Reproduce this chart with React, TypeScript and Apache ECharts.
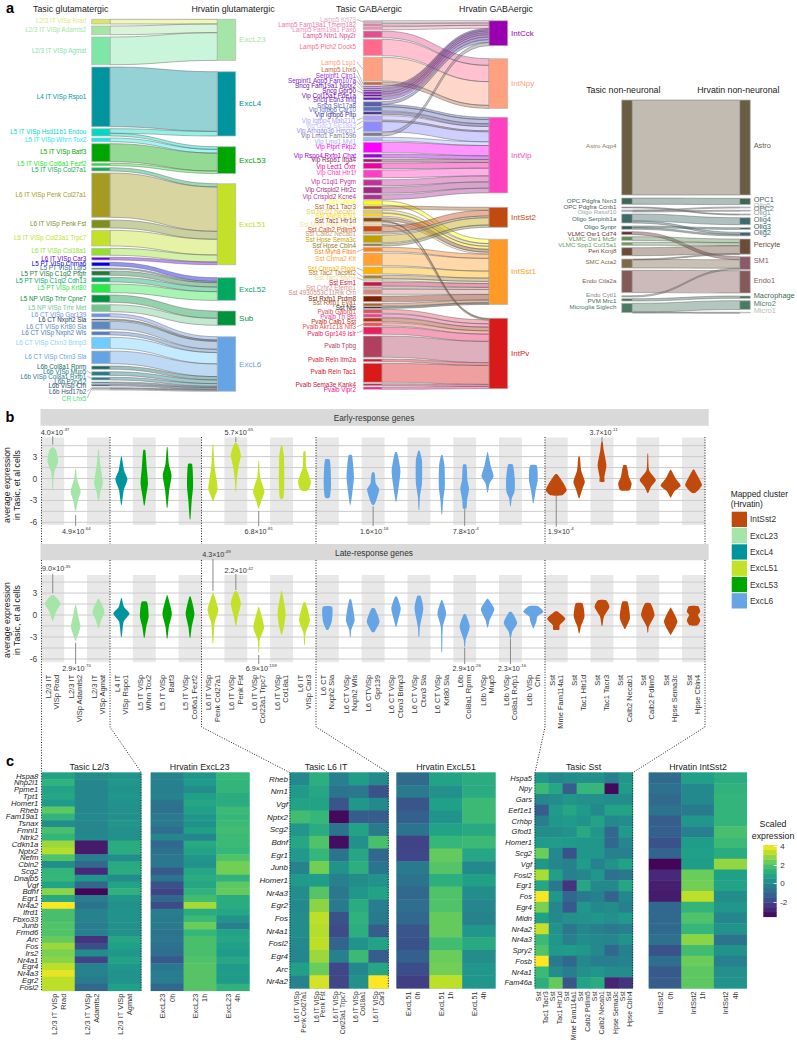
import React, { useEffect, useRef } from "react";
import * as echarts from "echarts";

const FONT = "Liberation Sans";

/* ---------- panel a data ---------- */
const gluLeftNames = ["L2/3 IT VISp Rrad","L2/3 IT VISp Adamts2","L2/3 IT VISp Agmat","L4 IT VISp Rspo1","L5 IT VISp Hsd11b1 Endou","L5 IT VISp Whrn Tox2","L5 IT VISp Batf3","L5 IT VISp Col6a1 Fezf2","L5 IT VISp Col27a1","L6 IT VISp Penk Col27a1","L6 IT VISp Penk Fst","L6 IT VISp Col23a1 Trpc7","L6 IT VISp Col18a1","L6 IT VISp Car3","L5 PT VISp Chrna6","L5 PT VISp Lgr5","L5 PT VISp C1ql2 Ptgfr","L5 PT VISp C1ql2 Cdh13","L5 PT VISp Krt80","L5 NP VISp Trhr Cpne7","L5 NP VISp Trhr Met","L6 CT VISp Gpr139","L6 CT Nxph2 Sla","L6 CT VISp Krt80 Sla","L6 CT VISp Nxph2 Wls","L6 CT VISp Ctxn3 Brinp3","L6 CT VISp Ctxn3 Sla","L6b Col8a1 Rprm","L6b VISp Mup5","L6b VISp Col8a1 Rxfp1","L6b P2ry12","L6b VISp Crh","L6b Hsd17b2","CR Lhx5"];
const gluRightNames = ["ExcL23","ExcL4","ExcL53","ExcL51","ExcL52","Sub","ExcL6"];
const gluValues = [4.7,8.7,27.7,59.7,4.6,3.7,18,2.4,3.3,44.3,8,15.7,7,2.7,3.7,1.3,4.3,4.7,8.7,7.3,7,3.3,1.3,8,3.3,11.3,12.7,3.3,3.7,2.7,1.3,1.7,1,1];
const gluTargets = [0,0,0,1,1,2,2,2,3,3,3,3,3,3,4,4,4,4,4,5,5,6,6,6,6,6,6,6,6,6,6,6,6,6];
const gluExtra = [["L5 IT VISp Hsd11b1 Endou","ExcL53",2.7]];
const gluColors = ["#d6e95f","#a5e5a5","#7ee6a6","#00949e","#00d9c0","#1de8e8","#00a600","#1ee61e","#15a858","#a49b20","#7d8f1e","#c4e028","#93e02a","#6a00e0","#0000e8","#3a6a8a","#1f7a3a","#00a860","#2ae84a","#00923c","#70c890","#6a90e8","#1a3a4a","#5a8ac0","#4a7ac0","#70ccff","#64a4e4","#186a60","#207a8a","#287c90","#2a6a80","#284a70","#3a5a7a","#dddddd"];
const gluRightColors = ["#a6e5a8","#00949e","#00a600","#c4e028","#00a860","#00923c","#66a5e5"];

const gabaLeftNames = ["Lamp5 Krt73","Lamp5 Fam19a1 Tmem182","Lamp5 Fam19a1 Pax6","Lamp5 Ntn1 Npy2r","Lamp5 Plch2 Dock5","Lamp5 Lsp1","Lamp5 Lhx6","Serpinf1 Clrn1","Serpinf1 Aqp5 Fam107a","Sncg Fam19a1 Nptx2","Sncg Gpr50","Vip Col15a1 Pde1a","Sncg Edn3 Ifng","Sncg Slc17a8","Vip Igfbp6 Car10","Vip Igfbp6 Pltp","Vip Igfbp4 Mab21l1","Vip Gpc3 Slc18a3","Vip Arhgap36 Hmcn1","Vip Lmo1 Fam159b","Vip Lmo1 Myl1","Vip Ptprt Pkp2","Vip Rspo4 Rxfp1 Chat","Vip Rspo1 Itga4","Vip Lect1 Oxtr","Vip Chat Htr1f","Vip C1ql1 Pygm","Vip Crispld2 Htr2c","Vip Crispld2 Kcne4","Sst Chodl","Sst Tac1 Tacr3","Sst Nr2f2 Necab1","Sst Myh8 Etv1","Sst Tac1 Htr1d","Sst Mme Fam114a1","Sst Calb2 Pdlim5","Sst Calb2 Necab1","Sst Hpse Sema3c","Sst Hpse Cbln4","Sst Myh8 Fibin","Sst Chrna2 Kit","Sst Chrna2 Ptgdr","Sst Tac2 Tacstd2","Sst Tac2 Myh4","Sst Esm1","Sst Crhr2 Efemp1","Sst 4930553C11Rik Crh","Sst Rxfp1 Prdm8","Sst Rxfp1 Eya1","Sst Nts","Pvalb Gabrg1","Pvalb Th Sst","Pvalb Calb1 Sst","Pvalb Akr1c18 Ntf3","Pvalb Gpr149 Islr","Pvalb Tpbg","Pvalb Reln Itm2a","Pvalb Reln Tac1","Pvalb Sema3e Kank4","Pvalb Vipr2"];
const gabaRightNames = ["IntCck","IntNpy","IntVip","IntSst2","IntSst1","IntPv"];
const gabaValues = [2.3,2.3,3,6.7,16.3,23.7,3,1.3,1.3,1.7,2,2.3,2.7,2.2,4.3,2.7,4.3,1,10,3.3,3.7,10.3,3.7,3,5.7,7.7,6,6.3,4.7,4.3,3,2.7,3,3,1.8,5.7,1.7,7.3,2.3,4.3,12.7,7,3.3,2,4,2,5,5.7,2.7,1.7,4,3.3,3.7,3.3,7.3,21.3,2.7,19,2,2.3];
const gabaTargets = [0,0,0,1,1,1,1,0,0,0,0,0,0,2,2,2,2,2,2,0,2,2,2,2,2,2,2,2,2,4,3,4,4,4,4,3,3,3,3,4,4,4,4,4,4,4,4,4,4,4,5,5,5,5,5,5,5,5,5,5];
const gabaExtra = [["Sncg Slc17a8","IntCck",2.8],["Sst Tac1 Htr1d","IntPv",1],["Sst Mme Fam114a1","IntPv",0.5]];
const gabaColors = ["#d8b0c4","#e87aa0","#f090b0","#e0508c","#ff6a8c","#ffa080","#c06a40","#9a30e0","#8020e0","#7010a0","#6a00a0","#7010b0","#6a1ac0","#5a60a8","#6070c0","#40308a","#b0a0ff","#c0c0f0","#8c8cff","#7a7a90","#a0b4ff","#ff00ff","#a000e0","#902060","#f000a0","#ff40c0","#c03098","#a02880","#b03098","#ffff00","#b06018","#e0d060","#ffd800","#8a4a10","#ffe0a0","#c84a10","#c8a070","#c0a000","#8a8030","#ff8010","#ffa030","#ffb000","#b08030","#e8d890","#c01848","#d89090","#d08a80","#802000","#b06030","#302010","#e05060","#f04090","#b03010","#f05050","#e82060","#b04060","#d81a30","#d81a1a","#c02040","#ff1090"];
const gabaRightColors = ["#9a00b0","#ffa080","#ff40c0","#c04a10","#ff9a28","#d81a1a"];

const nnLeftNames = ["Astro Aqp4","OPC Pdgfra Nxn3","OPC Pdgfra Ccnb1","Oligo Rassf10","Oligo Serpinb1a","Oligo Synpr","VLMC Osr1 Cd74","VLMC Osr1 Mc5r","VLMC Spp1 Col15a1","Peri Kcnj8","SMC Acta2","Endo Ctla2a","Endo Cytl1","PVM Mrc1","Microglia Siglech"];
const nnRightNames = ["Astro","OPC1","Olig5","OPC2","Olig1","Olig4","Olig3","Olig2","Pericyte","SM1","Endo1","Macrophage","Micro2","Micro1"];
const nnLinks = [["Astro Aqp4","Astro",95],["OPC Pdgfra Nxn3","OPC1",6.3],["OPC Pdgfra Ccnb1","Olig1",1],["Oligo Rassf10","Olig5",0.9],["Oligo Rassf10","OPC2",0.8],["Oligo Serpinb1a","Olig4",7],["Oligo Serpinb1a","Olig2",2],["Oligo Synpr","Olig3",1.7],["Oligo Synpr","Olig2",1.6],["VLMC Osr1 Cd74","SM1",3],["VLMC Osr1 Mc5r","Pericyte",3.7],["VLMC Spp1 Col15a1","Pericyte",3],["Peri Kcnj8","Pericyte",8],["SMC Acta2","SM1",8.5],["SMC Acta2","Pericyte",0.5],["Endo Ctla2a","Endo1",22.3],["Endo Cytl1","SM1",1.3],["PVM Mrc1","Macrophage",2.3],["Microglia Siglech","Micro2",8.8],["Microglia Siglech","Micro1",0.5]];
const nnColors = ["#6b5c44","#3f6558","#555555","#9aaaaa","#3e6a68","#2e5a58","#6a2a30","#5e8a50","#6a9a58","#6b4c38","#7c6a48","#845a58","#888888","#3e6a50","#4a7a64"];
const nnRightColors = ["#6b5c44","#3f6558","#a8bcc0","#667777","#8a9a9a","#3e6a68","#2e5a58","#3e6478","#6b4c38","#8a5a6a","#845a58","#3e6a50","#4a7a64","#bbbbbb"];

/* layout of panel a (pixel positions of node tops and label rows) */
const gluLeftTops = [19.3,26,37,67,128.7,138,143.7,163.3,167.7,173,220,230.3,248.3,257.3,262.3,268,271,277.3,284,295,304.7,313.7,319,321.3,331.7,337.3,351,366,371.7,377.3,382,384.3,387.7,389];
const gluLabelY = [20.7,29.3,50,96,131.7,139,151.7,163.7,169.7,194.3,223,237.3,250.7,258.3,263.7,267.3,273.3,280,287.3,298,307.3,314.3,319.7,326,332.3,342,356.7,366,371,376,381,385.7,391.3,398];
const gluRightTops = [19.3,71.7,146.7,183.7,277.7,311,336.7];
const gabaLeftTops = [20.7,23.7,26.7,31,39.3,57.3,82,86,88,90,92,94.3,97.3,101.7,106.7,111.7,115.7,120.5,121.7,132.7,137.3,142.3,154,159,163,170,179.7,187,194.7,200.7,206,210,213.3,217.7,222.7,226,232.3,235.3,243.7,247.3,253,267,275.3,279,282,286.7,289.3,296,303.3,306.7,309.3,314,318,322.7,327,336,359,363.3,383.7,387];
const gabaLabelY = [19.3,24,29,35.3,46.3,62,69.7,75.7,80.7,85.7,90.7,95,99.7,105,109.7,114,120.3,125,130,135.3,141,146.3,155,159.7,166.3,172.7,181.7,189,196,201.7,206.7,211.7,215.3,220,224,229,233.7,239.7,245.3,251.7,258.3,268,272.7,277.7,282.7,287,292,298,302.7,307,311,316,321,326.7,333,345.7,359.7,371.7,384,389];
const gabaRightTops = [20.7,58.7,117.3,207.3,239.3,318.3];
const nnLeftTops = [100,198,207,210,214,226,231.7,236.7,242.3,247.7,259,270.3,295.7,298.7,303.3];
const nnLabelY = [145.7,200,206.3,211.3,218.7,226.7,233,238.7,244,250.3,261.7,280.7,294.7,300,306.7];
const nnRightTops = [100,198.3,207,210.3,214,217.7,227.7,232.3,239,256.7,270.7,296,300.7,312.3];
const nnRightLabelY = [145.7,199.3,205,208.3,212.7,219,226.7,232.3,244.3,260,280,295,303.3,310.7];
const labelColorOverrides: any = { "CR Lhx5": "#40e070", "L2/3 IT VISp Rrad": "#e0e880", "Astro Aqp4": "#8a7c64", "L6 CT VISp Ctxn3 Brinp3": "#90d0ff" };

/* ---------- panel b data ---------- */
const violinColumns = ["L2/3 IT\nVISp Rrad","L2/3 IT\nVISp Adamts2","L2/3 IT\nVISp Agmat","L4 IT\nVISp Rspo1","L5 IT VISp\nWhrn Tox2","L5 IT VISp\nBatf3","L5 IT VISp\nCol6a1 Fezf2","L6 IT VISp\nPenk Col27a1","L6 IT VISp\nPenk Fst","L6 IT VISp\nCol23a1 Trpc7","L6 IT VISp\nCol18a1","L6 IT\nVISp Car3","L6 CT\nNxph2 Sla","L6 CT VISp\nNxph2 Wls","L6 CTVISp\nGpr139","L6 CT VISp\nCtxn3 Brinp3","L6 CT VISp\nCtxn3 Sla","L6 CT VISp\nKrt80 Sla","L6b\nCol8a1 Rprm","L6b VISp\nMup5","L6b VISp\nCol8a1 Rxfp1","L6b VISp\nCrh","Sst\nMme Fam114a1","Sst\nTac1 Htr1d","Sst\nTac1 Tacr3","Sst\nCalb2 Necab1","Sst\nCalb2 Pdlim5","Sst\nHpse Sema3c","Sst\nHpse Cbln4"];
const clusterNames = ["IntSst2","ExcL23","ExcL4","ExcL51","ExcL53","ExcL6"];
const clusterColors = ["#bf4a0c","#a6e5a8","#00959e","#c4e028","#00a600","#66a5e5"];
const columnClusters = [1,1,1,2,4,4,4,3,3,3,3,3,5,5,5,5,5,5,5,5,5,5,0,0,0,0,0,0,0];
const axisLevels = [-6,-4.5,-3,-1.5,0,1.5,3,4.5];
const earlyViolins = [
[[4.3,2],[3.9,10],[2.3,16],[1.1,6],[-0.2,2],[-1.6,1]],
[[1.3,1],[0,4],[-1.8,15],[-3,7],[-4.45,1]],
[[4,1],[2,5],[-0.7,13],[-1.8,6],[-3.1,1]],
[[3,1],[1.1,8],[-0.1,18],[-1.6,7],[-3.6,1]],
[[3.9,3],[1.6,7],[-0.7,11],[-2.5,5],[-3.7,1]],
[[4.3,1],[2,5],[0.45,13],[-1.6,6],[-4,1]],
[[2,6],[-1.1,9],[-3,5],[-5.6,1]],
[[4.7,1],[1.6,5],[-1.4,14],[-2.3,7],[-3.1,1]],
[[4.9,2],[4.3,9],[3.2,15],[1.6,8],[-0.2,3],[-1.8,1]],
[[2.4,1],[0.2,4],[-1.8,17],[-3,8],[-4.1,1]],
[[4.5,2],[3,7],[-0.7,8],[-2.5,6],[-2.8,3]],
[[3.7,3],[1.6,5],[-0.45,19],[-1.4,14],[-1.7,6]],
[[2.6,7],[-0.7,11],[-2.5,8],[-2.7,3]],
[[3.2,5],[0.2,11],[-2,6],[-3.6,1]],
[[0.8,4],[-0.7,8],[-1.5,18],[-3,9],[-3.6,3]],
[[3.6,3],[1.1,13],[-1.1,8],[-3.2,1]],
[[3.8,2],[2.5,9],[-0.7,9],[-2.5,3],[-4.3,1]],
[[3.2,2],[1.8,8],[-1.1,9],[-3,4],[-4.9,1]],
[[1.9,5],[-0.2,8],[-1.4,13],[-3,7],[-4.1,5]],
[[3.6,1],[1.8,9],[0.3,18],[-0.7,6],[-1.9,1]],
[[1.9,7],[-0.2,13],[-1.8,12],[-2.7,4],[-3.8,1]],
[[1.8,10],[-0.2,13],[-1.6,7],[-3.4,1]],
[[0.6,3],[-0.45,19],[-1.6,31],[-2.3,17]],
[[3,2],[1.1,6],[-0.45,17],[-1.4,10],[-2.7,1]],
[[5,2],[3.9,5],[1.8,13],[0.2,7],[-0.45,7]],
[[1.8,5],[0.2,12],[-0.7,20],[-1.6,14]],
[[3.4,1],[1.1,4],[-0.2,24],[-1.1,10],[-2,1]],
[[1.2,1],[0,15],[-1,30],[-1.8,10],[-2.6,1]],
[[1.2,2],[0.2,14],[-0.9,25],[-1.6,14],[-2,3]],
];
const lateViolins = [
[[2.7,4],[1.6,23],[0.45,10],[-0.8,1]],
[[1.4,1],[-0.2,8],[-1.6,14],[-3.5,1]],
[[2.2,2],[0.45,18],[-0.7,8],[-1.8,1]],
[[2.3,1],[1.1,8],[0.2,24],[-0.9,7],[-3,1]],
[[1.8,8],[-0.2,13],[-1.6,6],[-3.1,1]],
[[2.7,1],[0.2,14],[-1.6,5],[-3.2,1]],
[[2.5,2],[0.2,13],[-1.6,5],[-3.1,1]],
[[3,1],[0.7,16],[-1.1,5],[-3.9,1]],
[[3.2,4],[1.6,15],[-0.2,6],[-1.5,1]],
[[1.1,1],[-1.7,16],[-3.4,3],[-5.1,1]],
[[3.3,1],[0.2,12],[-1.6,7],[-2.7,1]],
[[1.7,3],[-0.7,16],[-2.5,3],[-4.1,1]],
[[1.1,14],[-0.9,13],[-2,3]],
[[2.1,3],[-0.7,13],[-2,3],[-3,1]],
[[0.9,5],[-0.9,19],[-2.3,4]],
[[2.5,3],[0.9,14],[-0.7,6],[-1.6,1]],
[[2.6,5],[0.9,13],[-1.6,3],[-3,1]],
[[2,2],[0.2,13],[-1.6,3],[-5.1,1]],
[[0.1,3],[-1.6,15],[-3.4,3],[-4.4,1]],
[[2.2,2],[0.8,20],[-0.7,6],[-1.7,1]],
[[0.4,4],[-1.1,20],[-2.3,5],[-3.2,1]],
[[1.2,14],[0.45,30],[-0.2,12],[-0.9,9],[-1.8,1]],
[[0.5,3],[-0.5,27],[-1.4,10],[-2,9]],
[[1.6,10],[-0.2,16],[-1.6,5],[-2.5,1]],
[[2,12],[1.1,22],[-0.2,6],[-1.5,1]],
[[1.8,8],[-0.45,15],[-1.9,1]],
[[1.6,8],[0,20],[-1.6,3],[-2.4,1]],
[[1,1],[-0.9,20],[-2.7,1]],
[[1.2,14],[0.45,20],[0,13],[-0.7,20],[-1.4,12]],
];
// column, line start, line end, text level, text shift, mantissa, exponent
const earlyNotes: any[] = [[0,5.77,4.64,6.36,2.3,"4.0×10","-37"],[1,-5,-6.5,-7.2,0.7,"4.9×10","-64"],[8,5.67,5,6.36,3,"5.7×10","-65"],[9,-4.46,-6.5,-7.2,0,"6.8×10","-81"],[14,-3.8,-6.5,-7.2,1,"1.6×10","-16"],[18,-4.2,-6.5,-7.2,1,"7.8×10","-4"],[22,-2.4,-6.6,-7.2,4.5,"1.9×10","-4"],[24,5.67,4.9,6.36,1.5,"3.7×10","-11"]];
const lateNotes: any[] = [[0,5.6,3,6.28,3.5,"9.0×10","-35"],[1,-3.78,-6.68,-7.23,1,"2.9×10","-70"],[7,7.64,3.3,8.28,3.5,"4.3×10","-49"],[8,5.6,3.4,6.04,3,"2.2×10","-42"],[9,-5.46,-6.68,-7.23,2.5,"6.9×10","-159"],[18,-4.5,-6.68,-7.23,2,"2.9×10","-26"],[20,-3.27,-6.68,-7.23,1.5,"2.3×10","-16"]];

/* ---------- panel c data ---------- */
const genesL23 = ["Hspa8","Nhp2l1","Ppme1","Tpt1","Homer1","Rheb","Fam19a1","Tsnax","Fmnl1","Ntrk2","Cdkn1a","Nptx2","Nefm","Cbln2","Scg2","Dnajb5","Vgf","Bdnf","Egr1","Nr4a2","Ifrd1","Fbxo33","Junb","Frmd6","Arc","Fos","Irs2","Nr4a1","Egr4","Nr4a3","Egr2","Fosl2"];
const tasicL23Cols = ["L2/3 IT VISp\nRrad","L2/3 IT VISp\nAdamts2","L2/3 IT VISp\nAgmat"];
const tasicL23Values = [[0.9,0.2,0.4],[1.4,0,0.5],[0.9,0,0.4],[1,0,0.5],[0.6,0,0.4],[2.2,0,0.3],[1.5,0.1,0.3],[0.2,0,0.5],[1.9,0,0.3],[1.5,0.1,0.3],[3,-3,1.2],[3.3,-3,1.2],[2,-0.2,0.2],[0.2,-0.9,1.1],[1.5,-2.7,1.2],[1.6,0.5,0.2],[0.9,-1,0.9],[2.8,-3.5,1.4],[1.1,-0.3,0.5],[4.2,-0.6,0.3],[1.9,-0.1,0.4],[1.9,-0.1,0.4],[2,-0.3,0.3],[2,-0.2,0.3],[2.3,-2.4,1],[3,-1.7,0.8],[2.6,0.2,0.5],[2.8,-2,0.9],[3.4,-0.1,0.5],[3.9,-0.1,0.4],[3.4,-0.4,0.4],[3.4,-1,0.8]];
const excL23Cols = ["ExcL23\n0h","ExcL23\n1h","ExcL23\n4h"];
const excL23Values = [[-0.1,0.5,1.6],[-0.2,0.6,1.5],[-0.2,0.2,1.5],[-0.1,0.8,1.2],[-0.6,1,1.2],[-0.7,0.8,1.7],[-0.4,0.5,1.6],[-0.4,0.4,1.7],[-0.8,0.8,1.8],[0,0,1.7],[-1,1.1,1.7],[-0.7,0.9,1.6],[-0.5,0.5,2],[-0.5,0.4,2.5],[-1.4,1,2.5],[-0.6,1.2,1.4],[-1.6,1,2.2],[-2,1.4,2.3],[-1,1.8,1.2],[-1.8,3.1,1.2],[-0.3,1.2,1],[-0.4,1.7,0.4],[-0.4,2.4,-0.2],[-0.6,1.6,0.9],[-0.5,1.9,1],[-0.7,1.9,0.8],[-0.8,1.9,0.6],[-1.4,2,1],[-0.5,2.1,0.6],[-0.3,2.1,0.7],[-0.3,2.1,0.6],[-1,2.1,1.4]];
const genesL6 = ["Rheb","Nrn1","Vgf","Nptx2","Scg2","Bdnf","Egr1","Junb","Homer1","Nr4a3","Egr2","Fos","Nr4a1","Fosl2","Egr4","Arc","Nr4a2"];
const tasicL6Cols = ["L6 IT VISp\nPenk Col27a1","L6 IT VISp\nPenk Fst","L6 IT VISp\nCol23a1 Trpc7","L6 IT VISp\nCol18a1","L6 IT VISp\nCar3"];
const tasicL6Values = [[0.1,1.3,-0.2,0.7,0.1],[0.6,1,-0.6,-0.5,-1.6],[0.9,0.9,-1.5,0.5,0.1],[1.8,1.6,-3.4,-1.3,-1.3],[0.5,1.2,-0.6,0.9,-0.4],[1,2,-3.3,0.3,1.9],[0.6,1.6,-0.6,1,-1],[-0.1,2.5,0.4,1.3,-0.6],[0.6,0.7,-0.2,0.2,0.4],[0.2,2.1,-0.5,0.5,0.9],[0.1,2.8,-0.4,1.2,-0.3],[0.2,3.4,-1.6,1.4,-0.4],[0.2,3.3,-1.8,1.3,-1.3],[0.1,3.4,-1.1,0.4,0.9],[0,3,-0.2,1.7,-1.3],[0.8,2.4,-1.9,0,1],[-0.1,3.7,-1.9,0.3,4.2]];
const excL51Cols = ["ExcL51\n0h","ExcL51\n1h","ExcL51\n4h"];
const excL51Values = [[-0.9,0.9,1.2],[-0.4,0.3,1.2],[-1.5,0.8,1.7],[-1.2,0.4,1.7],[-0.6,0.9,1.1],[-2,1.6,1.7],[-1.9,2.3,1],[-0.4,2.1,0.1],[-0.6,1.3,0.8],[-1,2,0.2],[-0.8,2,0],[-1,2.3,-0.1],[-1.5,2.3,0.5],[-1.6,1.8,1.1],[-1.2,2.4,0.2],[-1.7,2.5,0.5],[-2.1,3.4,0.5]];
const genesSst = ["Hspa5","Npy","Gars","Eef1e1","Crhbp","Gfod1","Homer1","Scg2","Vgf","Fosl2","Egr1","Fos","Egr4","Midn","Nr4a2","Nr4a3","Spry2","Fosb","Nr4a1","Fam46a"];
const tasicSstCols = ["Sst\nTac1 Tacr3","Sst\nTac1 Htr1d","Sst\nMme Fam114a1","Sst\nCalb2 Pdlim5","Sst\nCalb2 Necab1","Sst\nHpse Sema3c","Sst\nHpse Cbln4"];
const tasicSstValues = [[0.5,0,0.2,0.3,0.3,-0.2,0.5],[1.7,1,-1.3,1.6,1.6,-3.4,0.7],[0,0.2,0.5,0.3,0.3,0.2,0.2],[-1.3,0.6,1,0.6,0.1,0.9,0.9],[-0.3,0.5,0.6,0.4,0.9,0.1,0.2],[0.2,0.2,0.4,1.1,0.5,-1,0.6],[0.6,0.7,0.6,0.5,0.5,-1,0],[2.4,0.1,-1.6,0.5,0.5,-0.2,-0.2],[0.5,0,-0.2,0.7,-0.1,0.4,0.9],[3.2,0.8,-0.2,0,0.5,-0.7,-0.5],[1,-0.5,-2.4,1,0.1,0.1,1],[4.1,0.5,-1,-0.4,-0.2,-1.1,0],[2.6,0,-1.4,0.5,0.1,0.2,-0.2],[0.8,0.1,0.3,0.4,0.5,0.3,0.6],[3.5,0.4,-0.5,0,-0.2,-0.4,-0.2],[1.7,0.5,-0.2,0.2,0.1,0,0.4],[2,0.6,0.7,0.5,0.1,-1,-0.2],[4.2,-0.4,-1,0.1,-0.3,-0.3,-0.1],[1.7,0.2,-0.3,0.3,0.5,0.2,0.2],[1.3,2.3,-1.5,0.9,1.2,-2.8,-2.4]];
const intSst2Cols = ["IntSst2\n0h","IntSst2\n1h","IntSst2\n4h"];
const intSst2Values = [[-0.9,0.8,1.2],[-0.7,0.1,1.4],[-0.9,0.1,1.5],[-0.6,-0.4,1.5],[-1.3,0.5,1.5],[-1.2,-0.2,1.9],[-1.6,0.7,1.7],[-1.1,0.8,1.2],[-3.5,0.7,2.9],[-2.7,2.4,0.8],[-2.9,2.5,0.9],[-3,3.4,0.2],[-1,1.5,0.5],[-1,2,0],[-1,1.6,0.4],[-0.7,2.8,-0.6],[-1.6,1.8,0.4],[-0.8,2.4,-0.2],[-1.4,2.2,0.3],[-1.3,2.2,0.4]];
const colorbarSteps = [-3.57,-3.05,-2.53,-2.02,-1.5,-0.98,-0.47,0.05,0.57,1.08,1.6,2.12,2.63,3.15,3.67,4.18];
const viridis = ["#440154","#482878","#3e4989","#31688e","#26828e","#1f9e89","#35b779","#6ece58","#b5de2b","#fde725"];
const colorMin = -3.57, colorMax = 4.18;

/* ---------- builders ---------- */
function buildSankey(cfg: any) {
  const links = cfg.links.map((l: any) => ({ source: l[0], target: l[1], value: l[2] }));
  const out = (n: string) => links.filter((l: any) => l.source === n).reduce((s: number, l: any) => s + l.value, 0);
  const inn = (n: string) => links.filter((l: any) => l.target === n).reduce((s: number, l: any) => s + l.value, 0);
  const sumL = cfg.leftNames.reduce((s: number, n: string) => s + out(n), 0);
  const sumR = cfg.rightNames.reduce((s: number, n: string) => s + inn(n), 0);
  const H = Math.max(sumL, sumR);
  const leaders: any[] = [];
  const left = cfg.leftNames.map((n: string, i: number) => {
    const centre = cfg.leftTops[i] + out(n) / 2;
    const dy = cfg.labelY[i] - centre;
    if (Math.abs(dy) > 2.2) {
      leaders.push({ type: "line", z: 50, silent: true, shape: { x1: cfg.x - cfg.labelGap + 0.5, y1: cfg.labelY[i], x2: cfg.x - 0.5, y2: centre }, style: { stroke: "#777", lineWidth: 0.5 } });
    }
    return {
      name: n, localY: cfg.leftTops[i] / H,
      itemStyle: { color: cfg.leftColors[i], borderColor: "#b5b5b5", borderWidth: 0.7 },
      label: { position: "left", distance: cfg.labelGap, offset: [0, dy], color: labelColorOverrides[n] || cfg.leftColors[i], fontSize: cfg.leftFont },
    };
  });
  const right = cfg.rightNames.map((n: string, i: number) => {
    const dy = cfg.rightLabelY ? cfg.rightLabelY[i] - (cfg.rightTops[i] + inn(n) / 2) : 0;
    return {
      name: n, localY: cfg.rightTops[i] / H,
      itemStyle: { color: cfg.rightColors[i], borderColor: "#b5b5b5", borderWidth: 0.7 },
      label: { position: "right", distance: 3, offset: [0, dy], color: cfg.rightColors[i], fontSize: cfg.rightFont },
    };
  });
  return {
    leaders,
    series: {
      type: "sankey", left: cfg.x, top: 0, width: cfg.width, height: H, nodeWidth: cfg.nodeWidth, nodeGap: 0,
      layoutIterations: 0, draggable: false, silent: true, emphasis: { disabled: true },
      data: [...left, ...right], links,
      label: { show: true, fontFamily: FONT },
      lineStyle: { color: "source", opacity: 0.42, curveness: 0.5, borderColor: "#555", borderWidth: 1 },
    },
  };
}

const sharedRows = (names: string[], targets: number[], values: number[], rights: string[], extra: any[]) =>
  [...names.map((n, i) => [n, rights[targets[i]], values[i]]), ...extra];

const renderViolin = (profiles: any[]) => (params: any, api: any) => {
  const col = api.value(0);
  const k = api.size([1, 0])[0] / 68;
  const p = profiles[col];
  const l = p.map((q: number[]) => { const c = api.coord([col, q[0]]); return [c[0] - q[1] * k, c[1]]; });
  const r = p.map((q: number[]) => { const c = api.coord([col, q[0]]); return [c[0] + q[1] * k, c[1]]; }).reverse();
  return { type: "polygon", shape: { points: [...l, ...r], smooth: 0.2 }, style: { fill: api.visual("color") } };
};
const renderGridLine = (params: any, api: any) => {
  const cs = params.coordSys;
  const y = api.coord([0, api.value(1)])[1];
  return { type: "line", shape: { x1: cs.x, y1: y, x2: cs.x + cs.width, y2: y }, style: { stroke: "#cbcbcb", lineWidth: 1 } };
};
const renderNotes = (notes: any[]) => (params: any, api: any) => {
  const n = notes[params.dataIndex];
  const a = api.coord([n[0], n[1]]), b = api.coord([n[0], n[2]]), t = api.coord([n[0], n[3]]);
  return {
    type: "group",
    children: [
      { type: "line", shape: { x1: a[0], y1: a[1], x2: b[0], y2: b[1] }, style: { stroke: "#8a8a8a", lineWidth: 1 } },
      { type: "text", style: { x: t[0] + n[4], y: t[1], text: `{a|${n[5]}}{b|${n[6]}}`, align: "center", verticalAlign: "middle", rich: { a: { fontSize: 7.2, fill: "#333", fontFamily: FONT, lineHeight: 9 }, b: { fontSize: 4.4, fill: "#333", fontFamily: FONT, verticalAlign: "top" } } } },
    ],
  };
};

function App() {
  const ref = useRef<HTMLDivElement>(null);
  useEffect(() => {
    document.body.style.margin = "0";
    const chart = echarts.init(ref.current as HTMLDivElement, null, { renderer: "svg" });

    const glu = buildSankey({ x: 91.7, width: 144, nodeWidth: 18.3, labelGap: 5, leftFont: 6.3, rightFont: 8, leftNames: gluLeftNames, rightNames: gluRightNames, leftTops: gluLeftTops, rightTops: gluRightTops, labelY: gluLabelY, leftColors: gluColors, rightColors: gluRightColors, links: sharedRows(gluLeftNames, gluTargets, gluValues, gluRightNames, gluExtra) });
    const gaba = buildSankey({ x: 363.3, width: 144.4, nodeWidth: 18.7, labelGap: 7, leftFont: 6.3, rightFont: 8, leftNames: gabaLeftNames, rightNames: gabaRightNames, leftTops: gabaLeftTops, rightTops: gabaRightTops, labelY: gabaLabelY, leftColors: gabaColors, rightColors: gabaRightColors, links: sharedRows(gabaLeftNames, gabaTargets, gabaValues, gabaRightNames, gabaExtra) });
    const nn = buildSankey({ x: 621.7, width: 128.6, nodeWidth: 10.6, labelGap: 5, leftFont: 6.2, rightFont: 7.4, leftNames: nnLeftNames, rightNames: nnRightNames, leftTops: nnLeftTops, rightTops: nnRightTops, labelY: nnLabelY, rightLabelY: nnRightLabelY, leftColors: nnColors, rightColors: nnRightColors, links: nnLinks });

    const series: any[] = [glu.series, gaba.series, nn.series];
    const grids: any[] = [
      { left: 41.3, width: 663.7, top: 437.5, height: 87.5, outerBoundsMode: "none" },
      { left: 41.3, width: 663.7, top: 575, height: 87.3, outerBoundsMode: "none" },
    ];
    const bandArea = { show: true, interval: 0, areaStyle: { color: ["#e8e8e8", "rgba(255,255,255,0)"] } };
    const xAxes: any[] = [
      { gridIndex: 0, type: "category", data: violinColumns, axisLine: { show: false }, axisTick: { show: false }, axisLabel: { show: false }, splitArea: bandArea },
      { gridIndex: 1, type: "category", data: violinColumns, axisLine: { show: false }, axisTick: { show: false }, splitArea: bandArea,
        axisLabel: { interval: 0, rotate: 90, margin: 12.5, fontSize: 7.5, lineHeight: 8.4, color: "#333", fontFamily: FONT } },
    ];
    const violinY = (gi: number, min: number, max: number) => ({
      gridIndex: gi, type: "value", min, max, splitLine: { show: false }, axisLine: { show: false }, axisTick: { show: false },
      axisLabel: { customValues: [-6, -3, 0, 3], fontSize: 8.5, color: "#444", margin: 4, fontFamily: FONT },
    });
    const yAxes: any[] = [violinY(0, -6.37, 5.62), violinY(1, -6.45, 5.46)];

    [[earlyViolins, earlyNotes], [lateViolins, lateNotes]].forEach((pair: any, gi) => {
      series.push({ type: "custom", xAxisIndex: gi, yAxisIndex: gi, z: 1, silent: true, renderItem: renderGridLine, data: axisLevels.map((v) => [0, v]), encode: { x: 0, y: 1 } });
      clusterNames.forEach((name, ci) => {
        const rows = columnClusters.map((c, i) => (c === ci ? [i, pair[0][i][0][0]] : null)).filter(Boolean);
        series.push({ type: "custom", name, xAxisIndex: gi, yAxisIndex: gi, z: 3, silent: true, clip: false, itemStyle: { color: clusterColors[ci] }, renderItem: renderViolin(pair[0]), data: rows, encode: { x: 0, y: 1 } });
      });
      series.push({ type: "custom", xAxisIndex: gi, yAxisIndex: gi, z: 4, silent: true, clip: false, renderItem: renderNotes(pair[1]), data: pair[1].map((n: any) => [n[0], n[1]]), encode: { x: 0, y: 1 } });
    });

    const heatmaps = [
      { x: 42, w: 99, top: 772.7, h: 218, rows: genesL23, cols: tasicL23Cols, vals: tasicL23Values, lh: 9, fs: 7.4, gf: 7.7, m: 3.7 },
      { x: 151, w: 98.3, top: 772.7, h: 218, rows: genesL23, cols: excL23Cols, vals: excL23Values, hideY: true, lh: 9.5, fs: 7.4 },
      { x: 290, w: 98.3, top: 772.7, h: 215.6, rows: genesL6, cols: tasicL6Cols, vals: tasicL6Values, lh: 6.6, fs: 6.6, gf: 8, m: 2 },
      { x: 396.7, w: 98.6, top: 772.7, h: 215.6, rows: genesL6, cols: excL51Cols, vals: excL51Values, hideY: true, lh: 9.5, fs: 7.4 },
      { x: 535, w: 97.7, top: 772.7, h: 215.6, rows: genesSst, cols: tasicSstCols, vals: tasicSstValues, lh: 6.6, fs: 6.8, gf: 7.5, m: 3 },
      { x: 649, w: 97.7, top: 772.7, h: 215.6, rows: genesSst, cols: intSst2Cols, vals: intSst2Values, hideY: true, lh: 9.5, fs: 7.4 },
    ];
    const heatIdx: number[] = [];
    heatmaps.forEach((h: any) => {
      const gi = grids.length;
      grids.push({ left: h.x, width: h.w, top: h.top, height: h.h, show: true, backgroundColor: "transparent", borderColor: "#8fd4c4", borderWidth: 1, outerBoundsMode: "none" });
      xAxes.push({ gridIndex: gi, type: "category", data: h.cols, axisLine: { show: false }, axisTick: { show: false }, splitLine: { show: false },
        axisLabel: { interval: 0, rotate: 90, margin: 3, fontSize: h.fs, lineHeight: h.lh, color: "#333", fontFamily: FONT } });
      yAxes.push({ gridIndex: gi, type: "category", data: h.rows, inverse: true, axisLine: { show: false }, axisTick: { show: false }, splitLine: { show: false },
        axisLabel: { show: !h.hideY, interval: 0, margin: h.m || 3, fontSize: h.gf || 8, fontStyle: "italic", color: "#222", fontFamily: FONT } });
      heatIdx.push(series.length);
      const data: number[][] = [];
      h.vals.forEach((row: number[], r: number) => row.forEach((v, c) => data.push([c, r, v])));
      series.push({ type: "heatmap", xAxisIndex: gi, yAxisIndex: gi, data, silent: true, progressive: 0, itemStyle: { borderWidth: 0 }, emphasis: { disabled: true } });
    });

    const cbi = grids.length;
    grids.push({ left: 763.3, width: 13.4, top: 845, height: 71.7, outerBoundsMode: "none" });
    xAxes.push({ gridIndex: cbi, type: "category", data: [""], axisLine: { show: false }, axisTick: { show: false }, axisLabel: { show: false } });
    yAxes.push({ gridIndex: cbi, type: "value", position: "right", min: colorMin, max: colorMax, z: 10, splitLine: { show: false }, axisLine: { show: false },
      axisTick: { show: true, inside: true, length: 3, customValues: [-2, 0, 2, 4], lineStyle: { color: "#fff", width: 0.8 } },
      axisLabel: { customValues: [-2, 0, 2, 4], fontSize: 8, color: "#333", margin: 3.5, fontFamily: FONT } });
    series.push({
      type: "custom", xAxisIndex: cbi, yAxisIndex: cbi, silent: true, z: 3,
      data: colorbarSteps.slice(0, -1).map((v, i) => [0, v, colorbarSteps[i + 1]]), encode: { x: 0, y: [1, 2] },
      renderItem: (params: any, api: any) => {
        const a = api.value(1), b = api.value(2);
        const p0 = api.coord([0, a]), p1 = api.coord([0, b]);
        const w = api.size([1, 0])[0];
        const t = ((a + b) / 2 - colorMin) / (colorMax - colorMin);
        return { type: "rect", shape: { x: p0[0] - w / 2, y: p1[1], width: w, height: p0[1] - p1[1] + 0.4 }, style: { fill: echarts.color.lerp(t, viridis) } };
      },
    });

    const txt = (x: number, y: number, text: string, fontSize: number, extra: any = {}, rotation = 0) => ({
      type: "text", z: 60, silent: true, x, y, rotation, style: { text, fontSize, fontFamily: FONT, fill: "#222", align: "center", verticalAlign: "middle", ...extra },
    });
    const dots = (points: number[][]) => ({ type: "polyline", z: 55, silent: true, shape: { points }, style: { stroke: "#222", lineWidth: 1, lineDash: [1, 1.6], fill: "none" } });
    const dotX = [41.5, 110, 201.5, 316, 545, 705];
    const graphics: any[] = [
      { type: "rect", z: -1, silent: true, shape: { x: 40.5, y: 409, width: 668.2, height: 16.7 }, style: { fill: "#d9d9d9" } },
      { type: "rect", z: -1, silent: true, shape: { x: 40.5, y: 544, width: 668.2, height: 16.3 }, style: { fill: "#d9d9d9" } },
      txt(374, 417.5, "Early-response genes", 8.3, { fill: "#333" }),
      txt(374, 552.5, "Late-response genes", 8.3, { fill: "#333" }),
      txt(6.5, 485, "average expression", 8.7, {}, Math.PI / 2),
      txt(17.4, 485, "in Tasic, et al cells", 8.7, {}, Math.PI / 2),
      txt(6.5, 620, "average expression", 8.7, {}, Math.PI / 2),
      txt(17.4, 620, "in Tasic, et al cells", 8.7, {}, Math.PI / 2),
      txt(10, 8, "a", 14.5, { fontWeight: "bold", fill: "#000" }),
      txt(10, 417, "b", 14.5, { fontWeight: "bold", fill: "#000" }),
      txt(10, 761, "c", 14.5, { fontWeight: "bold", fill: "#000" }),
      txt(70.7, 9.3, "Tasic glutamatergic", 8.8),
      txt(233, 9.3, "Hrvatin glutamatergic", 8.8),
      txt(369, 9.3, "Tasic GABAergic", 8.8),
      txt(496, 9.3, "Hrvatin GABAergic", 8.8),
      txt(623.3, 90, "Tasic non-neuronal", 8.8),
      txt(738.3, 90, "Hrvatin non-neuronal", 8.8),
      txt(89.3, 767, "Tasic L2/3", 8.8),
      txt(199.7, 767, "Hrvatin ExcL23", 8.8),
      txt(326, 767, "Tasic L6 IT", 8.8),
      txt(446, 767, "Hrvatin ExcL51", 8.8),
      txt(583.5, 767, "Tasic Sst", 8.8),
      txt(698, 767, "Hrvatin IntSst2", 8.8),
      txt(730.7, 493.5, "Mapped cluster", 8.4, { align: "left" }),
      txt(730.7, 503.5, "(Hrvatin)", 8.4, { align: "left" }),
      txt(773, 824, "Scaled", 8.8),
      txt(773, 835.7, "expression", 8.8),
      ...dotX.map((x) => dots([[x, 437], [x, 544]])),
      dots([[41.5, 560], [41.5, 990.7]]),
      dots([[110, 560], [110, 727], [141, 772], [141, 990.7]]),
      dots([[201.5, 560], [201.5, 727], [290, 772.7], [290, 988.3]]),
      dots([[316, 560], [316, 727], [388.3, 772.7], [388.3, 988.3]]),
      dots([[545, 560], [545, 727], [535, 772.7], [535, 988.3]]),
      dots([[705, 560], [705, 727], [632.7, 772.7], [632.7, 988.3]]),
      ...glu.leaders, ...gaba.leaders, ...nn.leaders,
    ];

    chart.setOption({
      animation: false,
      textStyle: { fontFamily: FONT },
      grid: grids, xAxis: xAxes, yAxis: yAxes, series,
      legend: { data: clusterNames, orient: "vertical", left: 731.7, top: 511.7, itemWidth: 15.3, itemHeight: 15.3, itemGap: 1, icon: "rect", selectedMode: false, padding: 0,
        textStyle: { fontSize: 8.4, color: "#333", fontFamily: FONT, padding: [0, 0, 0, -2] } },
      visualMap: { type: "continuous", show: false, min: colorMin, max: colorMax, dimension: 2, seriesIndex: heatIdx, inRange: { color: viridis } },
      graphic: { elements: graphics },
    });
    return () => chart.dispose();
  }, []);
  return <div ref={ref} style={{ position: "absolute", left: 0, top: 0, width: 797, height: 1050, background: "#fff" }} />;
}

export default App;
